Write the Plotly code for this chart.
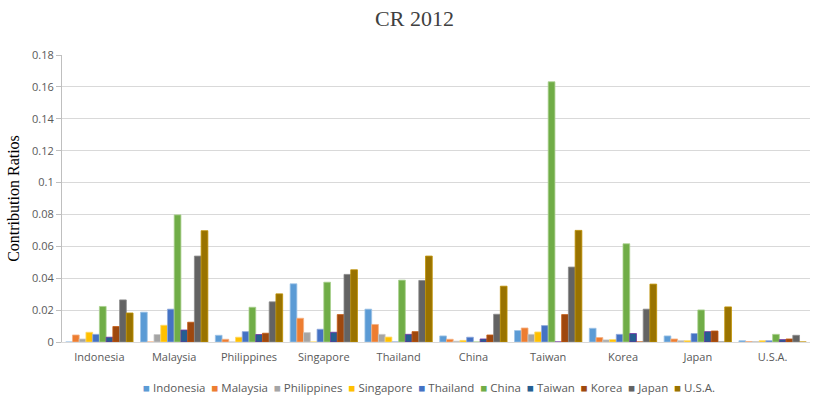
import plotly.graph_objects as go

categories = ["Indonesia", "Malaysia", "Philippines", "Singapore", "Thailand",
              "China", "Taiwan", "Korea", "Japan", "U.S.A."]
series_names = ["Indonesia", "Malaysia", "Philippines", "Singapore", "Thailand",
                "China", "Taiwan", "Korea", "Japan", "U.S.A."]

indonesia = [0, 0.0187, 0.0042, 0.0365, 0.0206, 0.0038, 0.0072, 0.0086, 0.0038, 0.0008]
malaysia = [0.0044, 0, 0.0017, 0.0149, 0.0110, 0.0017, 0.0088, 0.0028, 0.0019, 0.0003]
philippines = [0.0019, 0.0047, 0, 0.0059, 0.0048, 0.0005, 0.0048, 0.0013, 0.0008, 0.0003]
singapore = [0.0061, 0.0105, 0.0030, 0, 0.0031, 0.0010, 0.0063, 0.0015, 0.0008, 0.0008]
thailand = [0.0048, 0.0206, 0.0065, 0.0080, 0, 0.0030, 0.0103, 0.0048, 0.0053, 0.0008]
china = [0.0223, 0.0797, 0.0218, 0.0375, 0.0388, 0, 0.1632, 0.0616, 0.0201, 0.0048]
taiwan = [0.0030, 0.0075, 0.0047, 0.0061, 0.0048, 0.0019, 0, 0.0053, 0.0065, 0.0015]
korea = [0.0097, 0.0124, 0.0055, 0.0172, 0.0065, 0.0044, 0.0172, 0, 0.0069, 0.0019]
japan = [0.0264, 0.0539, 0.0252, 0.0424, 0.0386, 0.0174, 0.0470, 0.0206, 0, 0.0042]
usa = [0.0182, 0.0698, 0.0302, 0.0453, 0.0539, 0.0350, 0.0700, 0.0363, 0.0220, 0]

series_values = [indonesia, malaysia, philippines, singapore, thailand,
                 china, taiwan, korea, japan, usa]
colors = ["#5B9BD5", "#ED7D31", "#A5A5A5", "#FFC000", "#4472C4",
          "#70AD47", "#255E91", "#9E480E", "#636363", "#997300"]
line_colors = ["#9DC3E6", "#F4B183", "#C9C9C9", "#FFD966", "#8FAADC",
               "#A9D18E", "#7030A0", "#C55A11", "#8C8C8C", "#BF9000"]

fig = go.Figure()
for name, vals, c, lc in zip(series_names, series_values, colors, line_colors):
    fig.add_trace(go.Bar(
        name=name, x=categories, y=vals,
        marker=dict(color=c, line=dict(color=lc, width=0.8)),
    ))

# compact single-row legend (Excel style) as rich text
legend_text = "&nbsp;&nbsp;".join(
    f"<span style='color:{c}'>■</span>&nbsp;{n}" for n, c in zip(series_names, colors)
)
fig.add_annotation(
    text=legend_text, xref="paper", yref="paper", x=0.49, y=-0.157,
    xanchor="center", yanchor="middle", showarrow=False,
    font=dict(family="Open Sans, Liberation Sans", size=11.5, color="#595959"),
)

fig.update_layout(
    width=829, height=398,
    barmode="group", bargap=0.1, bargroupgap=0,
    paper_bgcolor="white", plot_bgcolor="white",
    margin=dict(l=62, r=19, t=55, b=56),
    showlegend=False,
    title=dict(text="CR 2012", x=0.5, xanchor="center", y=0.955, yanchor="middle",
               font=dict(family="Liberation Serif", size=22, color="#404040")),
    font=dict(family="Open Sans, Liberation Sans", size=11, color="#595959"),
    xaxis=dict(showgrid=False, showline=True, linecolor="#D9D9D9", linewidth=1,
               ticks="", ticklabelstandoff=5, tickfont=dict(size=11, color="#595959")),
    yaxis=dict(range=[0, 0.18], dtick=0.02, tickformat="~g",
               showgrid=True, gridcolor="#D9D9D9", gridwidth=1,
               showline=True, linecolor="#BFBFBF", linewidth=1,
               ticks="outside", ticklen=5, tickcolor="#BFBFBF",
               zeroline=False,
               tickfont=dict(size=11, color="#595959"),
               title=dict(text="Contribution Ratios", standoff=8,
                          font=dict(family="Liberation Serif", size=16, color="#000000"))),
)

fig.write_html("out.html")
